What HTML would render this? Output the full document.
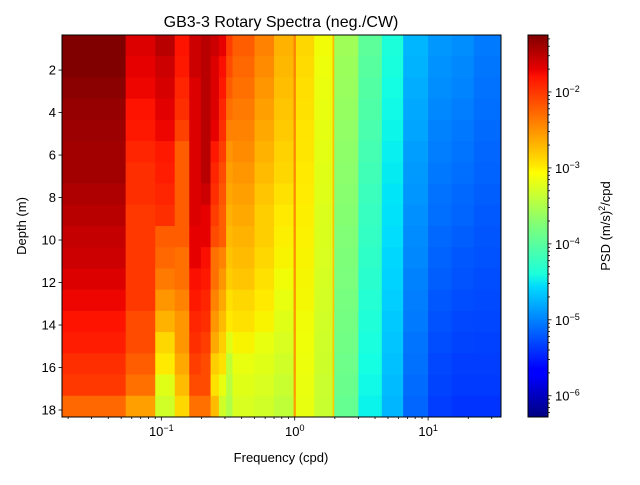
<!DOCTYPE html>
<html><head><meta charset="utf-8"><style>
body{margin:0;background:#fff;}
svg text{font-family:"Liberation Sans",sans-serif;fill:#000;}
</style></head><body>
<svg id="chart" width="640" height="480" viewBox="0 0 640 480" xmlns="http://www.w3.org/2000/svg">
<defs>
<linearGradient id="jet" x1="0" y1="1" x2="0" y2="0">
<stop offset="0" stop-color="#000080"/><stop offset="0.11" stop-color="#0000ff"/><stop offset="0.125" stop-color="#0000ff"/>
<stop offset="0.34" stop-color="#00d8ff"/><stop offset="0.375" stop-color="#1cffdb"/><stop offset="0.5" stop-color="#7dff7a"/>
<stop offset="0.64" stop-color="#ffff00"/><stop offset="0.66" stop-color="#ffe600"/><stop offset="0.89" stop-color="#ff1300"/>
<stop offset="0.91" stop-color="#e80000"/><stop offset="1" stop-color="#800000"/>
</linearGradient>
<clipPath id="plotclip"><rect x="62" y="35" width="439" height="382"/></clipPath>
</defs>
<text x="281" y="27" text-anchor="middle" font-size="16">GB3-3 Rotary Spectra (neg./CW)</text>
<g id="cells" clip-path="url(#plotclip)"></g>
<rect x="62" y="35" width="439" height="382" fill="none" stroke="#000" stroke-width="1"/>
<g id="axes"></g>
<text x="281" y="462" text-anchor="middle" font-size="13">Frequency (cpd)</text>
<text transform="translate(26,226) rotate(-90)" text-anchor="middle" font-size="13">Depth (m)</text>
<rect x="528" y="35" width="20" height="382" fill="url(#jet)" stroke="#000" stroke-width="1"/>
<g id="cbaxis"></g>
<text transform="translate(610,226) rotate(-90)" text-anchor="middle" font-size="13">PSD (m/s)<tspan dy="-5" font-size="9">2</tspan><tspan dy="5">/cpd</tspan></text>
</svg>
<script>
// frequency band edges (cpd)
const bandEdges = [0.018,0.054,0.09,0.126,0.162,0.198,0.234,0.27,0.306,0.342,0.5,0.7,0.98,1.02,1.4,1.92,1.98,3.0,4.5,6.5,10,15,22,36];
// depth rows 1..18 (m)
const depths = [1,2,3,4,5,6,7,8,9,10,11,12,13,14,15,16,17,18];
// log10 PSD per band, each array = 18 depth rows
const logPsd = [
[-1.25,-1.25,-1.30,-1.35,-1.38,-1.40,-1.40,-1.45,-1.50,-1.55,-1.58,-1.65,-1.73,-1.80,-1.85,-1.95,-2.00,-2.25],
[-1.65,-1.70,-1.73,-1.80,-1.83,-1.90,-1.95,-1.95,-2.00,-2.00,-2.00,-2.00,-2.00,-2.10,-2.10,-2.20,-2.30,-2.55],
[-1.50,-1.58,-1.63,-1.68,-1.73,-1.83,-1.85,-1.90,-1.95,-2.20,-2.25,-2.35,-2.50,-2.65,-2.85,-2.95,-3.15,-3.25],
[-1.80,-1.83,-1.90,-1.95,-2.05,-2.20,-2.20,-2.20,-2.20,-2.20,-2.30,-2.30,-2.40,-2.50,-2.50,-2.60,-2.70,-2.85],
[-1.58,-1.58,-1.65,-1.65,-1.65,-1.65,-1.65,-1.65,-1.65,-1.70,-1.70,-1.78,-1.83,-1.90,-1.95,-2.03,-2.10,-2.30],
[-1.50,-1.50,-1.50,-1.50,-1.50,-1.50,-1.50,-1.58,-1.70,-1.70,-1.78,-1.83,-1.90,-1.95,-2.03,-2.10,-2.10,-2.30],
[-1.58,-1.65,-1.65,-1.65,-1.70,-1.83,-1.90,-1.95,-2.03,-2.10,-2.30,-2.30,-2.40,-2.50,-2.60,-2.80,-2.90,-2.70],
[-1.70,-1.78,-1.83,-1.90,-1.95,-2.03,-2.10,-2.15,-2.20,-2.20,-2.40,-2.50,-2.60,-2.70,-2.80,-2.90,-3.10,-3.25],
[-2.03,-2.10,-2.20,-2.30,-2.40,-2.50,-2.55,-2.60,-2.65,-2.70,-2.75,-2.80,-2.90,-2.95,-3.15,-3.35,-3.40,-3.45],
[-2.20,-2.25,-2.30,-2.35,-2.40,-2.45,-2.50,-2.55,-2.60,-2.65,-2.70,-2.75,-2.85,-2.90,-3.00,-3.10,-3.15,-3.20],
[-2.40,-2.45,-2.50,-2.55,-2.60,-2.65,-2.70,-2.75,-2.80,-2.80,-2.85,-2.90,-2.95,-3.00,-3.10,-3.15,-3.20,-3.25],
[-2.65,-2.68,-2.72,-2.75,-2.78,-2.82,-2.85,-2.90,-2.95,-2.98,-3.00,-3.05,-3.10,-3.15,-3.20,-3.25,-3.30,-3.35],
[-2.40,-2.40,-2.42,-2.42,-2.44,-2.44,-2.45,-2.45,-2.46,-2.46,-2.47,-2.48,-2.49,-2.50,-2.51,-2.52,-2.53,-2.55],
[-2.85,-2.87,-2.89,-2.90,-2.92,-2.93,-2.95,-2.96,-2.98,-2.99,-3.00,-3.02,-3.03,-3.05,-3.06,-3.07,-3.09,-3.10],
[-3.05,-3.07,-3.09,-3.10,-3.12,-3.13,-3.15,-3.16,-3.18,-3.19,-3.20,-3.22,-3.23,-3.25,-3.26,-3.27,-3.29,-3.30],
[-2.70,-2.70,-2.72,-2.72,-2.73,-2.73,-2.74,-2.74,-2.75,-2.75,-2.76,-2.76,-2.77,-2.77,-2.78,-2.78,-2.79,-2.80],
[-3.55,-3.57,-3.59,-3.61,-3.63,-3.65,-3.67,-3.69,-3.71,-3.73,-3.75,-3.77,-3.79,-3.81,-3.83,-3.85,-3.87,-3.90],
[-3.95,-3.98,-4.01,-4.04,-4.07,-4.10,-4.13,-4.16,-4.19,-4.21,-4.24,-4.27,-4.30,-4.33,-4.36,-4.39,-4.42,-4.45],
[-4.35,-4.37,-4.40,-4.42,-4.44,-4.47,-4.49,-4.52,-4.54,-4.56,-4.59,-4.61,-4.63,-4.66,-4.68,-4.70,-4.73,-4.75],
[-4.75,-4.77,-4.80,-4.82,-4.84,-4.87,-4.89,-4.91,-4.94,-4.96,-4.98,-5.01,-5.03,-5.05,-5.08,-5.10,-5.12,-5.15],
[-4.90,-4.93,-4.95,-4.98,-5.01,-5.03,-5.06,-5.09,-5.11,-5.14,-5.17,-5.19,-5.22,-5.25,-5.27,-5.30,-5.32,-5.35],
[-4.95,-4.98,-5.00,-5.03,-5.06,-5.08,-5.11,-5.14,-5.16,-5.19,-5.22,-5.24,-5.27,-5.30,-5.32,-5.35,-5.37,-5.40],
[-5.05,-5.07,-5.09,-5.11,-5.13,-5.15,-5.17,-5.19,-5.21,-5.23,-5.25,-5.27,-5.29,-5.31,-5.33,-5.35,-5.37,-5.40]
];
const yTicks = [2,4,6,8,10,12,14,16,18];
const xMajorTicks = [0.1,1,10];
const xMajorLabels = ["-1","0","1"];
const cbTicks = [-2,-3,-4,-5,-6];

const NS = "http://www.w3.org/2000/svg";
const X0=62, X1=501, Y0=35, Y1=417;
const LX0=Math.log10(0.018), LX1=Math.log10(35.2);
function xScale(f){return X0+(Math.log10(f)-LX0)/(LX1-LX0)*(X1-X0);}
const D0=0.35, D1=18.33;
function yScale(d){return Y0+(d-D0)/(D1-D0)*(Y1-Y0);}
const VMIN=-6.28, VMAX=-1.25;
function cScale(l){return Math.max(0,Math.min(1,(l-VMIN)/(VMAX-VMIN)));}
function cbY(l){return Y1-(l-VMIN)/(VMAX-VMIN)*(Y1-Y0);}
function seg(t,pts){for(let i=1;i<pts.length;i++){if(t<=pts[i][0]){const a=pts[i-1],b=pts[i];return a[1]+(b[1]-a[1])*(t-a[0])/(b[0]-a[0]);}}return pts[pts.length-1][1];}
function jet(t){
 const r=seg(t,[[0,0],[0.35,0],[0.66,1],[0.89,1],[1,0.5]]);
 const g=seg(t,[[0,0],[0.125,0],[0.375,1],[0.64,1],[0.91,0],[1,0]]);
 const b=seg(t,[[0,0.5],[0.11,1],[0.34,1],[0.65,0],[1,0]]);
 return `rgb(${Math.round(r*255)},${Math.round(g*255)},${Math.round(b*255)})`;
}
const cells=document.getElementById('cells');
const dStep=(D1-D0)/depths.length;
for(let b=0;b<logPsd.length;b++){
 const xa=xScale(bandEdges[b]), xb=xScale(bandEdges[b+1]);
 for(let r=0;r<depths.length;r++){
  const ya=yScale(D0+r*dStep), yb=yScale(D0+(r+1)*dStep);
  const el=document.createElementNS(NS,'rect');
  el.setAttribute('x',xa);el.setAttribute('y',ya);
  el.setAttribute('width',xb-xa+0.4);el.setAttribute('height',yb-ya+0.4);
  el.setAttribute('fill',jet(cScale(logPsd[b][r])));
  
  
  cells.appendChild(el);
 }
}
const axes=document.getElementById('axes');
function line(p,x1,y1,x2,y2){const l=document.createElementNS(NS,'line');l.setAttribute('x1',x1);l.setAttribute('y1',y1);l.setAttribute('x2',x2);l.setAttribute('y2',y2);l.setAttribute('stroke','#000');l.setAttribute('stroke-width','0.8');p.appendChild(l);return l;}
function text(p,x,y,s,anchor){const t=document.createElementNS(NS,'text');t.setAttribute('x',x);t.setAttribute('y',y);t.setAttribute('font-size','13');t.setAttribute('text-anchor',anchor);t.textContent=s;p.appendChild(t);return t;}
yTicks.forEach(d=>{const y=yScale(d);
 const l=line(axes,X0-3.5,y,X0,y);
 
 
 const t=text(axes,X0-6,y+4.5,String(d),'end');
 
 
});
for(let e=-2;e<=1;e++){for(let m=1;m<10;m++){const f=m*Math.pow(10,e);if(f<0.018||f>35.2)continue;const x=xScale(f);
 const l=line(axes,x,Y1,x,Y1+(m===1?3.5:2));
 
 
}}
xMajorTicks.forEach((f,i)=>{const x=xScale(f);
 const t=text(axes,x,Y1+19,'10','middle');
 const s=document.createElementNS(NS,'tspan');s.setAttribute('dy','-5');s.setAttribute('font-size','9');s.textContent=(xMajorLabels[i].startsWith('-')?'\u2212'+xMajorLabels[i].slice(1):xMajorLabels[i]);t.appendChild(s);
 
 
});
const cb=document.getElementById('cbaxis');
for(let e=-7;e<=-2;e++){for(let m=1;m<10;m++){const l10=Math.log10(m*Math.pow(10,e));if(l10<VMIN||l10>VMAX)continue;const y=cbY(l10);
 const l=line(cb,548,y,548+(m===1?3.5:2),y);
 
 
}}
cbTicks.forEach(e=>{const y=cbY(e);
 const t=text(cb,555,y+5,'10','start');
 const s=document.createElementNS(NS,'tspan');s.setAttribute('dy','-5');s.setAttribute('font-size','9');s.textContent='\u2212'+Math.abs(e);t.appendChild(s);
 
 
});
</script>
</body></html>
